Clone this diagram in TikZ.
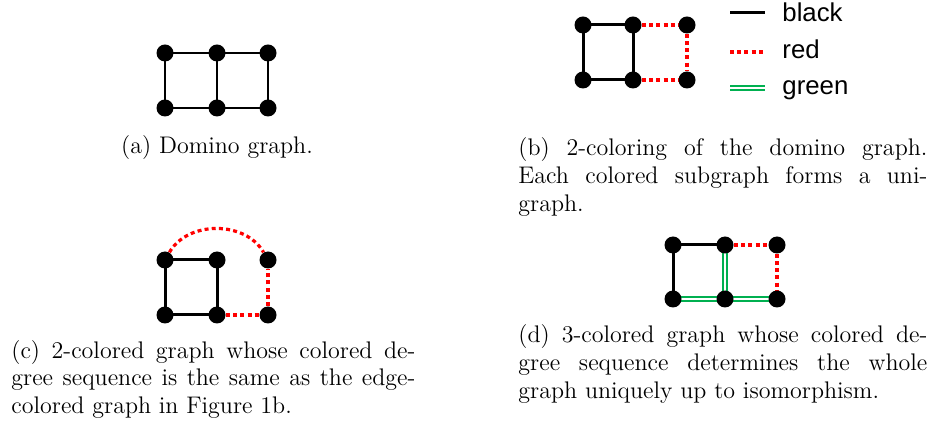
\documentclass[tikz,border=0pt]{standalone}
\usepackage{fontspec}
\newfontfamily\legendfont{Liberation Sans}
\definecolor{mygreen}{RGB}{0,176,80}
\pgfdeclarelayer{bg}
\pgfsetlayers{bg,main}
\begin{document}
\begin{tikzpicture}[x=0.5pt,y=-0.5pt,
  vertex/.style={circle,fill=black,inner sep=0pt,minimum size=8.5pt},
  thinedge/.style={line width=0.8pt},
  blk/.style={line width=1.5pt},
  rededge/.style={draw=red,line width=1.6pt,dash pattern=on 2pt off 1.6pt},
  grn/.style={draw=mygreen,double=white,double distance=0.9pt,line width=1pt},
  captext/.style={inner sep=0pt,anchor=base west,font=\fontsize{12}{14.4}\selectfont},
  legtext/.style={inner sep=0pt,anchor=base west,font=\legendfont\fontsize{12.9}{15}\selectfont}
]
\useasboundingbox (0,0) rectangle (935,426);

% (a)
\node[vertex] (a1) at (165,53) {};
\node[vertex] (a2) at (217,53) {};
\node[vertex] (a3) at (268,53) {};
\node[vertex] (a4) at (165,108) {};
\node[vertex] (a5) at (217,108) {};
\node[vertex] (a6) at (268,108) {};
\begin{pgfonlayer}{bg}
\draw[thinedge] (a1.center) -- (a3.center) -- (a6.center) -- (a4.center) -- cycle;
\draw[thinedge] (a2.center) -- (a5.center);
\end{pgfonlayer}
\node[captext,anchor=base] (capa) at (217,154) {(a) Domino graph.};

% (b)
\node[vertex] (b1) at (583,25) {};
\node[vertex] (b2) at (633,25) {};
\node[vertex] (b3) at (687,25) {};
\node[vertex] (b4) at (583,80) {};
\node[vertex] (b5) at (633,80) {};
\node[vertex] (b6) at (687,80) {};
\begin{pgfonlayer}{bg}
\draw[blk] (b1.center) -- (b2.center) -- (b5.center) -- (b4.center) -- cycle;
\draw[rededge] (b2) -- (b3);
\draw[rededge] (b3) -- (b6);
\draw[rededge] (b5) -- (b6);
\end{pgfonlayer}
% legend
\coordinate (lk1) at (730,13); \coordinate (lk2) at (765,13);
\coordinate (lr1) at (730,52); \coordinate (lr2) at (765,52);
\coordinate (lg1) at (730,88); \coordinate (lg2) at (765,88);
\draw[blk] (lk1) -- (lk2);
\draw[rededge] (lr1) -- (lr2);
\draw[grn] (lg1) -- (lg2);
\node[legtext] (tk) at (782,22) {black};
\node[legtext] (tr) at (782,59) {red};
\node[legtext] (tg) at (782,95) {green};
\node[captext] (capb1) at (518,156) {\makebox[204.5pt][s]{(b) 2-coloring of the domino graph.}};
\node[captext] (capb2) at (518,184) {\makebox[204.5pt][s]{Each colored subgraph forms a uni-}};
\node[captext] (capb3) at (518,212) {graph.};

% (c)
\node[vertex] (c1) at (165,260) {};
\node[vertex] (c2) at (217,260) {};
\node[vertex] (c3) at (268,260) {};
\node[vertex] (c4) at (165,315) {};
\node[vertex] (c5) at (217,315) {};
\node[vertex] (c6) at (268,315) {};
\begin{pgfonlayer}{bg}
\draw[blk] (c1.center) -- (c2.center) -- (c5.center) -- (c4.center) -- cycle;
\draw[rededge] (c5) -- (c6);
\draw[rededge] (c6) -- (c3);
\draw[rededge] (c1) to[bend left=60] (c3);
\end{pgfonlayer}
\node[captext] (capc1) at (11,358) {\makebox[202pt][s]{(c) 2-colored graph whose colored de-}};
\node[captext] (capc2) at (11,386) {\makebox[202pt][s]{gree sequence is the same as the edge-}};
\node[captext] (capc3) at (11,414) {colored graph in Figure 1b.};

% (d)
\node[vertex] (d1) at (673,245) {};
\node[vertex] (d2) at (725,245) {};
\node[vertex] (d3) at (777,245) {};
\node[vertex] (d4) at (673,299) {};
\node[vertex] (d5) at (725,299) {};
\node[vertex] (d6) at (777,299) {};
\begin{pgfonlayer}{bg}
\draw[blk] (d2.center) -- (d1.center) -- (d4.center);
\draw[grn] (d2.center) -- (d5.center);
\draw[grn] (d4.center) -- (d5.center);
\draw[grn] (d5.center) -- (d6.center);
\draw[rededge] (d2) -- (d3);
\draw[rededge] (d3) -- (d6);
\end{pgfonlayer}
\node[captext] (capd1) at (518,343) {\makebox[204.5pt][s]{(d) 3-colored graph whose colored de-}};
\node[captext] (capd2) at (518,371) {\makebox[204.5pt][s]{gree sequence determines the whole}};
\node[captext] (capd3) at (518,399) {graph uniquely up to isomorphism.};
\end{tikzpicture}
\end{document}
